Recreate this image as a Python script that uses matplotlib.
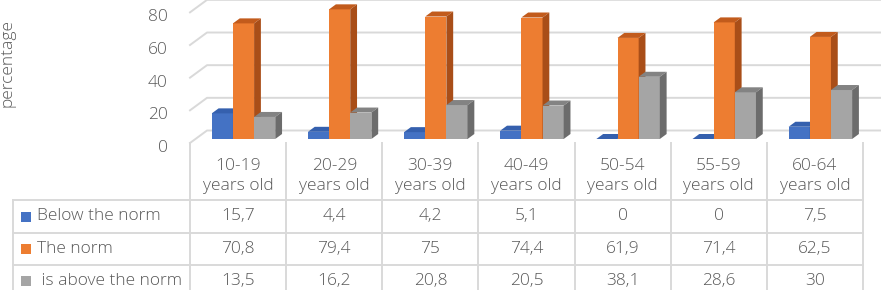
import numpy as np
import matplotlib.pyplot as plt
import matplotlib.transforms as mtransforms
from matplotlib.patches import Polygon, Rectangle

plt.rcParams['font.family'] = ['Open Sans', 'DejaVu Sans']
plt.rcParams['font.weight'] = 'light'

categories = ['10-19\nyears old', '20-29\nyears old', '30-39\nyears old', '40-49\nyears old',
              '50-54\nyears old', '55-59\nyears old', '60-64\nyears old']
below = [15.7, 4.4, 4.2, 5.1, 0, 0, 7.5]
norm = [70.8, 79.4, 75, 74.4, 61.9, 71.4, 62.5]
above = [13.5, 16.2, 20.8, 20.5, 38.1, 28.6, 30]
series_names = ['Below the norm', 'The norm', ' is above the norm']
yticks = [0, 20, 40, 60, 80]

# front, top, side colours
colors = [('#4472C4', '#3560AE', '#2C4F8E'),
          ('#ED7D31', '#C25B1C', '#A94E18'),
          ('#A5A5A5', '#838383', '#6C6C6C')]
txt = '#595959'
grid = '#D9D9D9'
fs = 12.5

W, H = 884, 290
fig = plt.figure(figsize=(W / 100, H / 100), dpi=100)


def box(x0, y0, x1, y1):
    return [x0 / W, 1 - y1 / H, (x1 - x0) / W, (y1 - y0) / H]


cat_px = 96.1
unit_px = 1.633
ax = fig.add_axes(box(190, 0, 863, 143))
ax.set_xlim(-0.5, 6.5)
ax.set_ylim(0, 143 / unit_px)
for s in ax.spines.values():
    s.set_visible(False)
ax.set_xticks([])
ax.set_yticks(yticks)
ax.tick_params(axis='y', length=0, pad=16, labelsize=fs, labelcolor=txt)
shift = mtransforms.ScaledTranslation(0, -3 / 100, fig.dpi_scale_trans)
for lab in ax.get_yticklabels():
    lab.set_transform(lab.get_transform() + shift)

dx = 17 / cat_px
dy = 12.5 / unit_px
f0, f1 = 0.32, 0.72
bw = 0.22

# wall / floor gridlines
for t in yticks:
    ax.plot([-0.5, -0.5 + dx, 6.5 + dx], [t, t + dy, t + dy],
            color=grid, lw=1.4, clip_on=False, zorder=1)

series = [below, norm, above]
ddx = (f1 - f0) * dx
ddy = (f1 - f0) * dy
y0 = f0 * dy
for i in range(len(categories)):
    for j, vals in enumerate(series):
        fc, tc, sc = colors[j]
        v = vals[i]
        xl = i - 1.5 * bw + j * bw + f0 * dx
        z = 3 + i * 10 + j * 3
        ax.bar(xl, v, width=bw, bottom=y0, align='edge', color=fc, zorder=z, lw=0)
        ax.add_patch(Polygon([(xl, y0 + v), (xl + bw, y0 + v), (xl + bw + ddx, y0 + v + ddy),
                              (xl + ddx, y0 + v + ddy)], closed=True, fc=tc, lw=0, zorder=z + 1))
        ax.add_patch(Polygon([(xl + bw, y0), (xl + bw + ddx, y0 + ddy), (xl + bw + ddx, y0 + v + ddy),
                              (xl + bw, y0 + v)], closed=True, fc=sc, lw=0, zorder=z + 1))

fig.text(8 / W, 1 - 63 / H, 'percentage', rotation=90, ha='center', va='center',
         fontsize=fs, color=txt)

# data table
tax = fig.add_axes(box(13, 143, 863, 290))
left = -0.5 - (190 - 13) / cat_px
tax.set_xlim(left, 6.5)
tax.set_ylim(290, 143)
tax.axis('off')


def cx(p):
    return -0.5 + (p - 190) / cat_px


lk = dict(color=grid, lw=1.4, clip_on=False)
for yy in [200, 233, 265]:
    tax.plot([left, 6.5], [yy, yy], **lk)
tax.plot([left, left], [200, 290], **lk)
for k in range(len(categories) + 1):
    tax.plot([k - 0.5, k - 0.5], [143, 290], **lk)

for i, c in enumerate(categories):
    tax.text(i, 176, c, ha='center', va='center', fontsize=fs, color=txt, linespacing=1.35)

row_y = [216.5, 249, 281]
for j, vals in enumerate(series):
    tax.add_patch(Rectangle((cx(21), row_y[j] - 5), 10 / cat_px, 10, fc=colors[j][0], lw=0))
    tax.text(cx(37), row_y[j], series_names[j], ha='left', va='center', fontsize=fs, color=txt)
    for i, v in enumerate(vals):
        tax.text(i, row_y[j], f'{v:g}'.replace('.', ','), ha='center', va='center',
                 fontsize=fs, color=txt)

fig.savefig('out.png', dpi=100)
